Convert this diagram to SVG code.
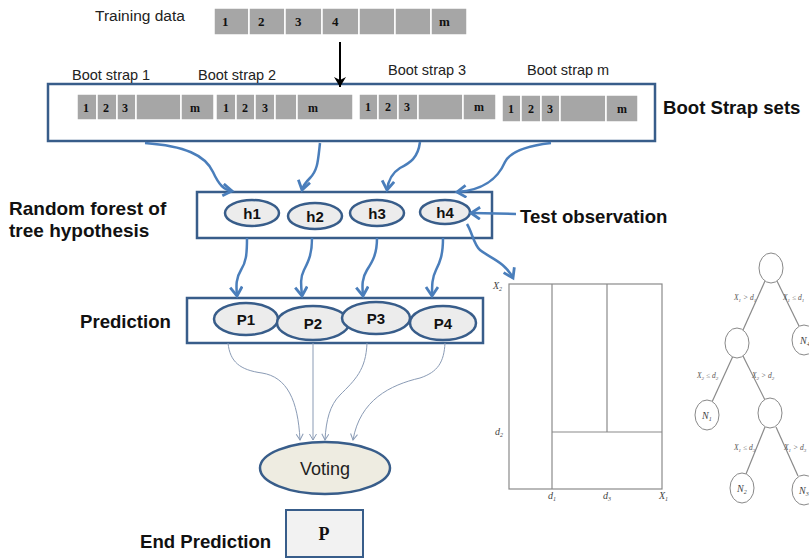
<svg xmlns="http://www.w3.org/2000/svg" width="809" height="560" viewBox="0 0 809 560">
<style>
.lbl{font-family:"Liberation Sans",Arial,sans-serif;font-weight:bold;font-size:18.6px;fill:#111}
.reg{font-family:"Liberation Sans",Arial,sans-serif;font-size:14.5px;fill:#222}
.cell{fill:#a6a6a6;stroke:#fff;stroke-width:1.5}
.num{font-family:"Liberation Serif","Times New Roman",serif;font-weight:bold;font-size:12px;fill:#111}
.box{fill:#fff;stroke:#385d8a;stroke-width:2.5}
.ell{fill:#ececec;stroke:#385d8a;stroke-width:2.5}
.etx{font-family:"Liberation Sans",Arial,sans-serif;font-weight:bold;font-size:15px;fill:#111;text-anchor:middle}
.blue{fill:none;stroke:#4a7ebb;stroke-width:2.5}
.thin{fill:none;stroke:#8a9bb5;stroke-width:1}
.plot{fill:none;stroke:#8a8a8a;stroke-width:1.2}
.math{font-family:"Liberation Serif","Times New Roman",serif;font-style:italic;font-size:10px;fill:#444}
.tl{font-family:"Liberation Serif","Times New Roman",serif;font-style:italic;font-size:7.5px;fill:#555}
.tn{fill:#fff;stroke:#888;stroke-width:1}
</style>
<defs>
<marker id="bh" markerUnits="userSpaceOnUse" markerWidth="16" markerHeight="16" refX="11" refY="7" orient="auto">
<path d="M2,1 L11,7 L2,13" fill="none" stroke="#4a7ebb" stroke-width="2.8"/>
</marker>
<marker id="gh" markerUnits="userSpaceOnUse" markerWidth="10" markerHeight="10" refX="7" refY="4" orient="auto">
<path d="M1,0.5 L7,4 L1,7.5" fill="none" stroke="#8a9bb5" stroke-width="1"/>
</marker>
<marker id="kh" markerUnits="userSpaceOnUse" markerWidth="14" markerHeight="14" refX="10" refY="6" orient="auto">
<path d="M0,0 L10,6 L0,12 L3,6 Z" fill="#000"/>
</marker>
</defs>

<g id="training">
<text class="reg" x="95" y="21" style="font-size:15.5px">Training data</text>
<rect class="cell" x="214" y="8" width="35" height="27"/>
<rect class="cell" x="249" y="8" width="36" height="27"/>
<rect class="cell" x="285" y="8" width="37" height="27"/>
<rect class="cell" x="322" y="8" width="37" height="27"/>
<rect class="cell" x="359" y="8" width="36" height="27"/>
<rect class="cell" x="395" y="8" width="36" height="27"/>
<rect class="cell" x="431" y="8" width="36" height="27"/>
<text class="num" x="222" y="26" style="font-size:13px">1</text>
<text class="num" x="258" y="26" style="font-size:13px">2</text>
<text class="num" x="295" y="26" style="font-size:13px">3</text>
<text class="num" x="332" y="26" style="font-size:13px">4</text>
<text class="num" x="439" y="26" style="font-size:13px">m</text>
</g>

<g id="bootstrap-sets">
<rect class="box" x="48" y="84" width="607" height="57"/>
<text class="reg" x="72" y="80">Boot strap  1</text>
<text class="reg" x="198" y="80">Boot strap  2</text>
<text class="reg" x="388" y="75">Boot strap  3</text>
<text class="reg" x="527" y="75">Boot strap  m</text>
<rect class="cell" x="77" y="94" width="20" height="26"/>
<rect class="cell" x="97" y="94" width="20" height="26"/>
<rect class="cell" x="117" y="94" width="19" height="26"/>
<rect class="cell" x="136" y="94" width="45" height="26"/>
<rect class="cell" x="181" y="94" width="33" height="26"/>
<rect class="cell" x="216" y="94" width="20" height="26"/>
<rect class="cell" x="236" y="94" width="19" height="26"/>
<rect class="cell" x="255" y="94" width="20" height="26"/>
<rect class="cell" x="275" y="94" width="22" height="26"/>
<rect class="cell" x="297" y="94" width="56" height="26"/>
<rect class="cell" x="359" y="94" width="19" height="26"/>
<rect class="cell" x="378" y="94" width="20" height="26"/>
<rect class="cell" x="398" y="94" width="20" height="26"/>
<rect class="cell" x="418" y="94" width="45" height="26"/>
<rect class="cell" x="463" y="94" width="33" height="26"/>
<rect class="cell" x="502" y="95" width="19" height="27"/>
<rect class="cell" x="521" y="95" width="20" height="27"/>
<rect class="cell" x="541" y="95" width="19" height="27"/>
<rect class="cell" x="560" y="95" width="46" height="27"/>
<rect class="cell" x="606" y="95" width="32" height="27"/>
<text class="num" x="83" y="112">1</text>
<text class="num" x="103" y="112">2</text>
<text class="num" x="122" y="112">3</text>
<text class="num" x="190" y="112">m</text>
<text class="num" x="223" y="112">1</text>
<text class="num" x="242" y="112">2</text>
<text class="num" x="262" y="112">3</text>
<text class="num" x="308" y="112">m</text>
<text class="num" x="365" y="111">1</text>
<text class="num" x="385" y="111">2</text>
<text class="num" x="404" y="111">3</text>
<text class="num" x="474" y="111">m</text>
<text class="num" x="508" y="113">1</text>
<text class="num" x="528" y="113">2</text>
<text class="num" x="547" y="113">3</text>
<text class="num" x="617" y="113">m</text>
<text class="lbl" x="663" y="114">Boot Strap sets</text>
</g>

<g id="hypotheses">
<text class="lbl" x="9" y="215" style="font-size:19px">Random forest of</text>
<text class="lbl" x="9" y="237" style="font-size:19px">tree hypothesis</text>
<rect class="box" x="197" y="192" width="295" height="46"/>
<ellipse class="ell" cx="252" cy="213" rx="27" ry="13"/>
<ellipse class="ell" cx="315" cy="216" rx="27" ry="13"/>
<ellipse class="ell" cx="377" cy="213" rx="27" ry="13"/>
<ellipse class="ell" cx="445" cy="212" rx="25" ry="12"/>
<text class="etx" x="252" y="219">h1</text>
<text class="etx" x="315" y="222">h2</text>
<text class="etx" x="377" y="219">h3</text>
<text class="etx" x="445" y="218">h4</text>
<text class="lbl" x="520" y="223">Test observation</text>
</g>

<g id="predictions">
<text class="lbl" x="80" y="328">Prediction</text>
<rect class="box" x="187" y="298" width="296" height="45"/>
<ellipse class="ell" cx="246" cy="319" rx="32" ry="16"/>
<ellipse class="ell" cx="313" cy="323" rx="36" ry="17"/>
<ellipse class="ell" cx="376" cy="318" rx="34" ry="16"/>
<ellipse class="ell" cx="443" cy="323" rx="33" ry="17"/>
<text class="etx" x="246" y="325">P1</text>
<text class="etx" x="313" y="329">P2</text>
<text class="etx" x="376" y="324">P3</text>
<text class="etx" x="443" y="329">P4</text>
</g>

<g id="voting">
<ellipse cx="325" cy="468" rx="65" ry="26" fill="#eeece1" stroke="#385d8a" stroke-width="2.5"/>
<text x="325" y="475" text-anchor="middle" style="font-family:'Liberation Sans',Arial,sans-serif;font-size:18px;fill:#222">Voting</text>
</g>

<g id="end-prediction">
<text class="lbl" x="140" y="548">End Prediction</text>
<rect x="286" y="510" width="77" height="47" fill="#f2f2f2" stroke="#385d8a" stroke-width="2"/>
<text x="324" y="540" text-anchor="middle" style="font-family:'Liberation Serif','Times New Roman',serif;font-weight:bold;font-size:18px;fill:#111">P</text>
</g>

<g id="partition-plot">
<rect class="plot" x="509" y="284" width="153" height="205"/>
<line class="plot" x1="552" y1="284" x2="552" y2="489"/>
<line class="plot" x1="607" y1="284" x2="607" y2="432"/>
<line class="plot" x1="552" y1="432" x2="662" y2="432"/>
<text class="math" x="493" y="289">X<tspan font-size="6" dy="2">2</tspan></text>
<text class="math" x="495" y="435">d<tspan font-size="6" dy="2">2</tspan></text>
<text class="math" x="548" y="499">d<tspan font-size="6" dy="2">1</tspan></text>
<text class="math" x="603" y="499">d<tspan font-size="6" dy="2">3</tspan></text>
<text class="math" x="659" y="499">X<tspan font-size="6" dy="2">1</tspan></text>
</g>

<g id="decision-tree">
<line class="plot" x1="765" y1="281" x2="743" y2="330"/>
<line class="plot" x1="777" y1="281" x2="799" y2="326"/>
<line class="plot" x1="733" y1="356" x2="712" y2="402"/>
<line class="plot" x1="743" y1="356" x2="765" y2="400"/>
<line class="plot" x1="765" y1="427" x2="746" y2="474"/>
<line class="plot" x1="776" y1="427" x2="798" y2="476"/>
<ellipse class="tn" cx="771" cy="268" rx="12" ry="15"/>
<ellipse class="tn" cx="737" cy="343" rx="12" ry="15"/>
<ellipse class="tn" cx="804" cy="340" rx="12" ry="15"/>
<ellipse class="tn" cx="707" cy="415" rx="12" ry="15"/>
<ellipse class="tn" cx="770" cy="413" rx="12" ry="15"/>
<ellipse class="tn" cx="742" cy="488" rx="12" ry="15"/>
<ellipse class="tn" cx="804" cy="490" rx="12" ry="15"/>
<text class="math" x="800" y="344">N<tspan font-size="6" dy="2">4</tspan></text>
<text class="math" x="702" y="419">N<tspan font-size="6" dy="2">1</tspan></text>
<text class="math" x="737" y="492">N<tspan font-size="6" dy="2">2</tspan></text>
<text class="math" x="799" y="494">N<tspan font-size="6" dy="2">3</tspan></text>
<text class="tl" x="734" y="300">X<tspan font-size="5" dy="1.5">1</tspan><tspan dy="-1.5"> &gt; d</tspan><tspan font-size="5" dy="1.5">1</tspan></text>
<text class="tl" x="783" y="300">X<tspan font-size="5" dy="1.5">1</tspan><tspan dy="-1.5"> ≤ d</tspan><tspan font-size="5" dy="1.5">1</tspan></text>
<text class="tl" x="697" y="378">X<tspan font-size="5" dy="1.5">2</tspan><tspan dy="-1.5"> ≤ d</tspan><tspan font-size="5" dy="1.5">2</tspan></text>
<text class="tl" x="752" y="378">X<tspan font-size="5" dy="1.5">2</tspan><tspan dy="-1.5"> &gt; d</tspan><tspan font-size="5" dy="1.5">2</tspan></text>
<text class="tl" x="734" y="450">X<tspan font-size="5" dy="1.5">1</tspan><tspan dy="-1.5"> ≤ d</tspan><tspan font-size="5" dy="1.5">3</tspan></text>
<text class="tl" x="784" y="450">X<tspan font-size="5" dy="1.5">1</tspan><tspan dy="-1.5"> &gt; d</tspan><tspan font-size="5" dy="1.5">3</tspan></text>
</g>

<g id="connectors">
<line x1="340" y1="42" x2="340" y2="87" stroke="#000" stroke-width="2" marker-end="url(#kh)"/>
<path class="blue" marker-end="url(#bh)" d="M145,143 C185,146 205,155 213,172 C219,185 224,190 232,191"/>
<path class="blue" marker-end="url(#bh)" d="M320,143 C318,160 318,170 310,178 C305,183 303,186 302,190"/>
<path class="blue" marker-end="url(#bh)" d="M420,142 C418,158 410,163 400,168 C392,173 388,182 387,190"/>
<path class="blue" marker-end="url(#bh)" d="M551,143 C525,146 510,152 505,162 C498,178 485,190 457,192"/>
<path class="blue" marker-end="url(#bh)" d="M516,214 L471,213"/>
<path class="blue" stroke-width="3" marker-end="url(#bh)" d="M467,224 C472,232 474,245 480,250 C490,258 505,262 513,278"/>
<path class="blue" marker-end="url(#bh)" d="M247,238 C247,255 246,262 241,270 C236,278 236,285 237,296"/>
<path class="blue" marker-end="url(#bh)" d="M312,238 C312,255 308,262 304,270 C300,278 301,285 302,296"/>
<path class="blue" marker-end="url(#bh)" d="M377,238 C377,255 372,262 367,270 C362,278 362,285 363,296"/>
<path class="blue" marker-end="url(#bh)" d="M443,238 C443,255 440,262 436,270 C432,278 432,285 432,296"/>
<path class="thin" marker-end="url(#gh)" d="M228,343 C230,362 240,370 262,373 C287,377 298,400 300,440"/>
<path class="thin" marker-end="url(#gh)" d="M313,343 L313,440"/>
<path class="thin" marker-end="url(#gh)" d="M367,343 C366,370 355,380 340,395 C330,405 326,420 325,440"/>
<path class="thin" marker-end="url(#gh)" d="M445,343 C444,362 438,372 420,378 C390,385 360,400 353,440"/>
</g>
</svg>
